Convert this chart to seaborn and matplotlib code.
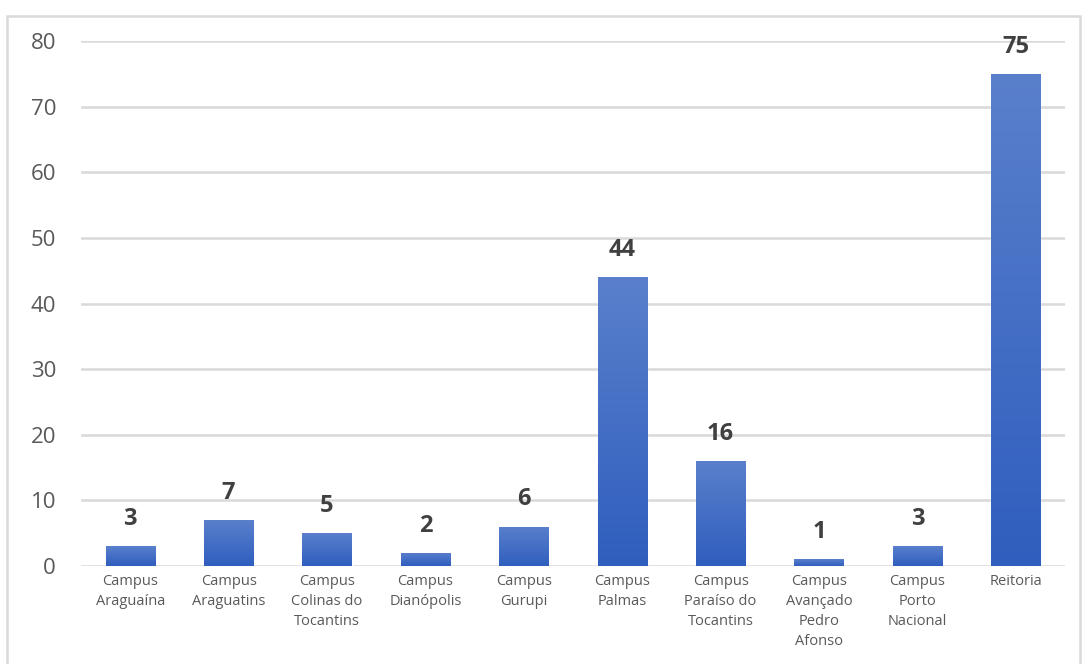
import numpy as np
import pandas as pd
import seaborn as sns
import matplotlib
matplotlib.use("Agg")
import matplotlib.pyplot as plt
from matplotlib.patches import Rectangle
from matplotlib.colors import LinearSegmentedColormap

categories = ["Campus\nAraguaína", "Campus\nAraguatins", "Campus\nColinas do\nTocantins",
              "Campus\nDianópolis", "Campus\nGurupi", "Campus\nPalmas",
              "Campus\nParaíso do\nTocantins", "Campus\nAvançado\nPedro\nAfonso",
              "Campus\nPorto\nNacional", "Reitoria"]
values = [3, 7, 5, 2, 6, 44, 16, 1, 3, 75]
y_ticks = [0, 10, 20, 30, 40, 50, 60, 70, 80]

sns.set_theme(style="white")
plt.rcParams['font.family'] = ['Open Sans', 'DejaVu Sans']

fig = plt.figure(figsize=(10.88, 6.64), dpi=100)
ax = fig.add_axes([81/1088, 98/664, (1065-81)/1088, (566-41)/664])

df = pd.DataFrame({"cat": categories, "val": values})
sns.barplot(data=df, x="cat", y="val", ax=ax, color="#4472C4", width=0.5,
            saturation=1, zorder=3)

ax.set_ylim(0, 80)
ax.set_xlim(-0.5, len(categories) - 0.5)
ax.set_yticks(y_ticks)
ax.set_yticklabels([str(t) for t in y_ticks], fontsize=16, color="#595959")
ax.tick_params(axis="y", length=0, pad=18)
ax.tick_params(axis="x", length=0, pad=6)
for lbl in ax.get_xticklabels():
    lbl.set_fontsize(10.5)
    lbl.set_color("#595959")
    lbl.set_linespacing(1.45)
    lbl.set_verticalalignment("top")
ax.set_xlabel("")
ax.set_ylabel("")
ax.yaxis.grid(True, color="#D9D9D9", linewidth=1.8, zorder=0)
ax.set_axisbelow(True)
for s in ax.spines.values():
    s.set_visible(False)

# gradient fill on bars
cmap = LinearSegmentedColormap.from_list("g", ["#2F5EBE", "#5A80CC"])
grad = np.linspace(0, 1, 256).reshape(-1, 1)
for p in ax.patches:
    x0, y0 = p.get_x(), p.get_y()
    w, h = p.get_width(), p.get_height()
    im = ax.imshow(grad, extent=[x0, x0 + w, y0, y0 + h], origin="lower",
                   cmap=cmap, aspect="auto", zorder=4)
    im.set_clip_path(p)
ax.set_xlim(-0.5, len(categories) - 0.5)
ax.set_ylim(0, 80)

for i, v in enumerate(values):
    ax.annotate(str(v), (i, v), xytext=(0, 11), textcoords="offset points",
                ha="center", va="bottom", fontsize=17, fontweight="bold",
                color="#404040", zorder=5)

fig.patches.append(Rectangle((7/1088, -0.05), (1080-7)/1088, (664-16)/664 + 0.05,
                             transform=fig.transFigure, fill=False,
                             edgecolor="#D9D9D9", linewidth=1.8))

fig.savefig("out.png", dpi=100)
